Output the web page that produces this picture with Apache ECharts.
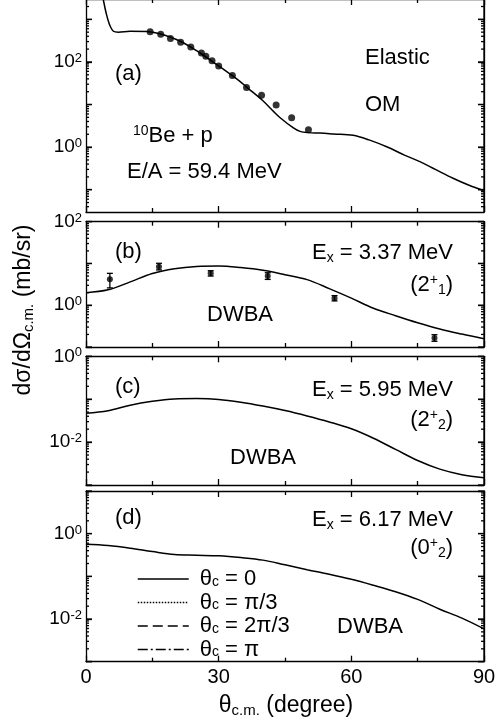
<!DOCTYPE html>
<html><head><meta charset="utf-8">
<script src="https://cdn.jsdelivr.net/npm/echarts@6/dist/echarts.min.js"></script>
<style>html,body{margin:0;padding:0;background:#fff;overflow:hidden}#c{width:496px;height:727px}</style>
</head><body><div id="c"></div>
<script>
const FONT = '"Liberation Sans", Arial, sans-serif';

// ---------- DATA (dσ/dΩ in mb/sr vs θc.m. in degree) ----------
const xTickValues = [0, 30, 60, 90];

// (a) elastic, optical model curve
const elasticCurveAngle = [0, 2, 3, 3.9, 4.55, 5.3, 6.2, 7.3, 10, 13.7, 16.7, 21.3, 25.8, 29.6, 34.8, 36.3, 40, 42.4, 43.9, 46.9, 48.4, 50.3, 52.9, 56, 60.4, 64, 68, 72, 75.5, 79, 83, 86.5, 90];
const elasticCurveValue = [4e5, 3.2e4, 8900, 2950, 1410, 760, 525, 500, 525, 519, 457, 305, 162, 86, 35, 25.7, 12.3, 6.9, 4.9, 2.82, 2.34, 2.19, 2.14, 2.04, 1.9, 1.48, 1.02, 0.65, 0.457, 0.30, 0.186, 0.129, 0.095];
// (a) elastic, measured
const elasticDataAngle = [14.5, 16.9, 19.1, 21.4, 23.7, 26.1, 27.1, 28.5, 30.0, 33.1, 36.3, 39.7, 43.0, 46.5, 50.3];
const elasticDataValue = [508, 446, 353, 289, 225, 163, 136, 106, 80, 48, 25, 16.4, 9.7, 4.9, 2.55];

// (b) Ex = 3.37 MeV (2+1)
const curveAngle = [0, 5, 10, 15, 20, 25, 30, 35, 40, 45, 50, 55, 60, 65, 70, 75, 80, 85, 90];
const ex337Curve = [2.0, 2.34, 3.63, 5.75, 7.5, 8.5, 8.7, 8.0, 6.9, 5.4, 4.1, 2.5, 1.48, 0.85, 0.56, 0.38, 0.27, 0.204, 0.158];
const ex337DataAngle = [5.4, 16.5, 28.2, 41.1, 56.2, 78.8];
const ex337DataValue = [4.2, 8.4, 5.8, 5.0, 1.47, 0.164];
const ex337DataLow  = [2.6, 7.0, 5.0, 4.15, 1.27, 0.137];
const ex337DataHigh = [5.8, 10.1, 6.7, 6.0, 1.70, 0.197];

// (c) Ex = 5.95 MeV (2+2)
const ex595Curve = [0.0468, 0.0537, 0.0724, 0.0891, 0.1012, 0.1035, 0.0989, 0.0851, 0.0692, 0.0543, 0.0407, 0.0295, 0.0204, 0.0123, 0.00676, 0.00372, 0.00234, 0.00174, 0.00148];

// (d) Ex = 6.17 MeV (0+2)
const ex617Curve = [0.562, 0.525, 0.457, 0.380, 0.324, 0.313, 0.302, 0.275, 0.240, 0.186, 0.143, 0.112, 0.0851, 0.0617, 0.0437, 0.0288, 0.0170, 0.0105, 0.00589];

const legendNames = ['θc = 0', 'θc = π/3', 'θc = 2π/3', 'θc = π'];

// ---------- LAYOUT ----------
const LEFT = 86, RIGHT_EDGE = 484;
const panels = [
  {top: -1,    bottom: 212,   min: Math.log10(0.03), max: Math.log10(3000), labels: [0, 2]},
  {top: 221.7, bottom: 347,   min: -1, max: 2, labels: [0, 2]},
  {top: 356.3, bottom: 485,   min: -3, max: 0, labels: [-2, 0]},
  {top: 491,   bottom: 661.7, min: -3, max: 1, labels: [-2, 0]}
];

const lg = v => Math.log10(v);
const pairs = (xs, ys) => xs.map((x, i) => [x, lg(ys[i])]);

const AX = {color: '#000', width: 1.3};
const grid = [], xAxis = [], yAxis = [], frameSeries = [], frameLines = [];
panels.forEach((p, i) => {
  grid.push({left: LEFT, width: RIGHT_EDGE - LEFT, top: p.top, height: p.bottom - p.top,
             containLabel: false, outerBoundsMode: 'none'});
  // right-hand border of the panel box
  frameLines.push({type: 'line', silent: true, z: 10,
    shape: {x1: RIGHT_EDGE, y1: Math.max(p.top, 0), x2: RIGHT_EDGE, y2: p.bottom},
    style: {stroke: '#000', lineWidth: 1.3}});
  ['bottom', 'top'].forEach(pos => {
    xAxis.push({
      type: 'value', gridIndex: i, position: pos, min: 0, max: 90, interval: 30,
      axisLine: {show: true, onZero: false, lineStyle: AX},
      axisTick: {show: true, inside: true, length: 6, lineStyle: AX},
      minorTick: {show: true, splitNumber: 2, length: 4, lineStyle: AX},
      splitLine: {show: false}, minorSplitLine: {show: false},
      axisLabel: {show: i === 3 && pos === 'bottom', color: '#000', fontSize: 20, fontFamily: FONT, margin: 6,
                  hideOverlap: false}
    });
  });
  const majors = [], minors = [];
  for (let n = Math.floor(p.min); n <= Math.ceil(p.max); n++) {
    if (n >= p.min - 1e-9 && n <= p.max + 1e-9) majors.push(n);
    for (let k = 2; k <= 9; k++) {
      const v = n + Math.log10(k);
      if (v > p.min && v < p.max) minors.push(v);
    }
  }
  ['left', 'right'].forEach(pos => {
    yAxis.push({
      type: 'value', gridIndex: i, position: pos, min: p.min, max: p.max,
      axisLine: {show: true, onZero: false, lineStyle: AX},
      axisTick: {show: true, inside: true, length: 6, lineStyle: AX, customValues: majors},
      splitLine: {show: false},
      axisLabel: pos === 'left' ? {
        show: true, customValues: p.labels, margin: 4, color: '#000',
        formatter: v => '{b|10}{s|' + Math.round(v) + '}',
        rich: {
          b: {fontSize: 19, fontFamily: FONT, color: '#000', lineHeight: 20},
          s: {fontSize: 13, fontFamily: FONT, color: '#000', lineHeight: 13, verticalAlign: 'top'}
        }
      } : {show: false, customValues: p.labels}
    });
  });
  // log ticks on both sides, placed through the panel's own scales
  const tickData = minors.map(v => [90, v, 0]).concat(majors.map(v => [90, v, 1]));
  frameSeries.push({
    type: 'custom', xAxisIndex: i * 2, yAxisIndex: i * 2, data: tickData, silent: true, animation: false, z: 3,
    clip: false, encode: {x: 0, y: 1},
    renderItem: (params, api) => {
      const v = api.value(1), major = api.value(2) === 1;
      const r = api.coord([90, v]), l = api.coord([0, v]);
      const st = {stroke: '#000', lineWidth: 1.3};
      const len = major ? 6 : 3;
      return {type: 'group', children: [
        {type: 'line', shape: {x1: r[0], y1: r[1], x2: r[0] - len, y2: r[1]}, style: st},
        {type: 'line', shape: {x1: l[0], y1: l[1], x2: l[0] + len, y2: l[1]}, style: st}
      ]};
    }
  });
});

const LINE = {color: '#000', width: 1.5};
const curve = (name, gi, data, type, hidden) => ({
  name, type: 'line', xAxisIndex: gi * 2, yAxisIndex: gi * 2, data,
  symbol: 'none', smooth: 0.35, clip: true,
  lineStyle: Object.assign({}, LINE, {type: type || 'solid', opacity: hidden ? 0 : 1}),
  itemStyle: {color: '#000'}, silent: true, animation: false
});
const dots = (gi, data, size) => ({
  type: 'scatter', xAxisIndex: gi * 2, yAxisIndex: gi * 2, data,
  symbol: 'circle', symbolSize: size, itemStyle: {color: '#000'}, silent: true, animation: false, z: 5
});

const errData = ex337DataAngle.map((x, i) => [x, lg(ex337DataLow[i]), lg(ex337DataHigh[i])]);

const d617 = pairs(curveAngle, ex617Curve);
const series = frameSeries.concat([
  curve('elastic', 0, pairs(elasticCurveAngle, elasticCurveValue)),
  dots(0, pairs(elasticDataAngle, elasticDataValue), 7),
  curve('ex337', 1, pairs(curveAngle, ex337Curve)),
  {
    type: 'custom', xAxisIndex: 2, yAxisIndex: 2, data: errData, silent: true, animation: false, z: 4,
    encode: {x: 0, y: [1, 2]},
    renderItem: (params, api) => {
      const a = api.coord([api.value(0), api.value(1)]);
      const b = api.coord([api.value(0), api.value(2)]);
      const w = 3, st = {stroke: '#000', lineWidth: 1.3};
      return {type: 'group', children: [
        {type: 'line', shape: {x1: a[0], y1: a[1], x2: b[0], y2: b[1]}, style: st},
        {type: 'line', shape: {x1: a[0] - w, y1: a[1], x2: a[0] + w, y2: a[1]}, style: st},
        {type: 'line', shape: {x1: b[0] - w, y1: b[1], x2: b[0] + w, y2: b[1]}, style: st}
      ]};
    }
  },
  dots(1, pairs(ex337DataAngle, ex337DataValue), 6),
  curve('ex595', 2, pairs(curveAngle, ex595Curve)),
  curve(legendNames[1], 3, d617, 'dotted', true),
  curve(legendNames[2], 3, d617, [10, 5], true),
  curve(legendNames[3], 3, d617, [10, 3, 2, 3], true),
  curve(legendNames[0], 3, d617, 'solid')
]);

const R = {
  t:   {fontSize: 22, fontFamily: FONT, color: '#000', lineHeight: 24},
  T:   {fontSize: 23, fontFamily: FONT, color: '#000', lineHeight: 24},
  sup: {fontSize: 14, fontFamily: FONT, color: '#000', lineHeight: 14, verticalAlign: 'top'},
  sub: {fontSize: 14, fontFamily: FONT, color: '#000', lineHeight: 10, verticalAlign: 'bottom'},
  S:   {fontSize: 15, fontFamily: FONT, color: '#000', lineHeight: 10, verticalAlign: 'bottom'}
};
const txt = (text, x, y, align, rot) => ({
  type: 'text', x, y, rotation: rot || 0, silent: true,
  style: {text, rich: R, fill: '#000', fontSize: 22, fontFamily: FONT, align: align || 'left', verticalAlign: 'middle'}
});

const graphic = frameLines.concat([
  txt('{t|(a)}', 115, 74),
  txt('{sup|10}{t|Be + p}', 133, 136),
  txt('{t|E/A = 59.4 MeV}', 127, 172),
  txt('{t|Elastic}', 365, 58),
  txt('{t|OM}', 365, 105),
  txt('{t|(b)}', 115, 252),
  txt('{t|E}{sub|x}{t| = 3.37 MeV}', 453, 253, 'right'),
  txt('{t|(2}{sup|+}{sub|1}{t|)}', 453, 285, 'right'),
  txt('{t|DWBA}', 207, 315),
  txt('{t|(c)}', 115, 387),
  txt('{t|E}{sub|x}{t| = 5.95 MeV}', 453, 390, 'right'),
  txt('{t|(2}{sup|+}{sub|2}{t|)}', 453, 420, 'right'),
  txt('{t|DWBA}', 230, 458),
  txt('{t|(d)}', 115, 518),
  txt('{t|E}{sub|x}{t| = 6.17 MeV}', 453, 520, 'right'),
  txt('{t|(0}{sup|+}{sub|2}{t|)}', 453, 548, 'right'),
  txt('{t|DWBA}', 337, 627),
  txt('{T|θ}{S|c.m.}{T| (degree)}', 286, 706, 'center'),
  txt('{T|dσ/dΩ}{S|c.m.}{T| (mb/sr)}', 24, 310, 'center', Math.PI / 2)
]);

const chart = echarts.init(document.getElementById('c'), null, {renderer: 'canvas'});
chart.setOption({
  backgroundColor: '#fff',
  animation: false,
  grid, xAxis, yAxis, series, graphic,
  legend: {
    data: legendNames, orient: 'vertical', left: 132, top: 563, itemWidth: 51, itemHeight: 14, itemGap: 1.5,
    selectedMode: false,
    itemStyle: {opacity: 0},
    lineStyle: {opacity: 1, color: '#000', width: 1.5},
    formatter: name => '{t|θ}{sub|c}{t|' + name.slice(2) + '}',
    textStyle: {padding: [0, 0, 0, 6], rich: {
      t: {fontSize: 22, fontFamily: FONT, color: '#000', lineHeight: 20},
      sub: {fontSize: 14, fontFamily: FONT, color: '#000', lineHeight: 8, verticalAlign: 'bottom'}
    }}
  }
});
</script></body></html>
